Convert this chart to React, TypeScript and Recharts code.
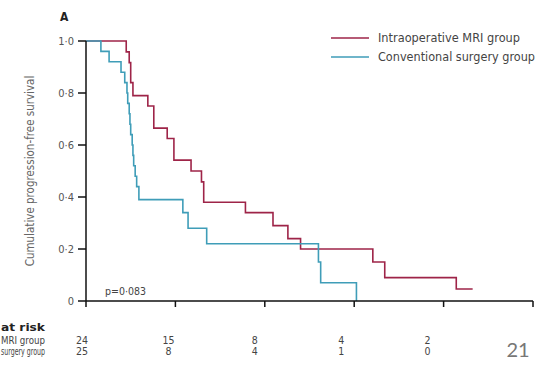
import { LineChart, Line, XAxis, YAxis } from 'recharts';

// Kaplan–Meier steps, time in months
const mriTime = [0, 5.4, 5.8, 6.0, 6.3, 8.3, 9.1, 10.9, 11.8, 14.1, 15.5, 15.8, 21.4, 25.1, 27.1, 28.8, 38.5, 40.1, 49.7, 51.9];
const mriSurv = [1.0, 0.958, 0.917, 0.84, 0.79, 0.75, 0.665, 0.625, 0.542, 0.5, 0.458, 0.38, 0.34, 0.29, 0.24, 0.2, 0.15, 0.09, 0.046, 0.046];

const convTime = [0, 2.0, 3.1, 4.7, 5.2, 5.5, 5.6, 5.8, 5.9, 6.0, 6.2, 6.3, 6.4, 6.6, 6.8, 7.1, 13.0, 13.7, 16.2, 31.2, 31.5, 36.3];
const convSurv = [1.0, 0.96, 0.92, 0.88, 0.84, 0.8, 0.76, 0.72, 0.68, 0.64, 0.6, 0.56, 0.52, 0.48, 0.44, 0.39, 0.34, 0.28, 0.22, 0.15, 0.07, 0];

const xTicks = [0, 12, 24, 36, 48, 60];
const yTicks = [0, 0.2, 0.4, 0.6, 0.8, 1.0];
const mriAtRisk = ['24', '15', '8', '4', '2'];
const convAtRisk = ['25', '8', '4', '1', '0'];
const rowLabels = ['at risk', 'MRI group', 'surgery group'];

const RED = '#9e2448';
const BLUE = '#3f9db8';
const FONT = '"DejaVu Sans Condensed", "DejaVu Sans", sans-serif';

const mriData = mriTime.map((t, i) => ({ t, s: mriSurv[i] }));
const convData = convTime.map((t, i) => ({ t, s: convSurv[i] }));

const fmtY = (v: number) => (v === 0 ? '0' : v.toFixed(1).replace('.', '·'));

function RiskTick(props: any) {
  const { x, index } = props;
  if (index >= mriAtRisk.length) return <g />;
  const dx = -4 - index * 3;
  return (
    <g>
      <text x={x + dx} y={344} textAnchor="middle" fontSize={10.5} fill="#444" fontFamily={FONT}>
        {mriAtRisk[index]}
      </text>
      <text x={x + dx} y={355} textAnchor="middle" fontSize={10.5} fill="#444" fontFamily={FONT}>
        {convAtRisk[index]}
      </text>
    </g>
  );
}

export default function App() {
  return (
    <div style={{ position: 'absolute', left: 0, top: 0, width: 544, height: 372, background: '#fff', fontFamily: FONT }}>
      <LineChart
        width={544}
        height={372}
        margin={{ top: 41, right: 11, bottom: 0, left: 56 }}
      >
        <XAxis
          dataKey="t"
          type="number"
          domain={[0, 60]}
          ticks={xTicks}
          allowDataOverflow
          axisLine={{ stroke: '#111', strokeWidth: 1.5 }}
          tickLine={{ stroke: '#111', strokeWidth: 1.5 }}
          tickSize={6}
          tick={<RiskTick />}
          height={71}
        />
        <YAxis
          type="number"
          domain={[0, 1]}
          ticks={yTicks}
          tickFormatter={fmtY}
          axisLine={{ stroke: '#111', strokeWidth: 1.5 }}
          tickLine={{ stroke: '#111', strokeWidth: 1.5 }}
          tickSize={8}
          tickMargin={4}
          width={30}
          tick={{ fontSize: 11, fill: '#555', fontFamily: FONT }}
          label={{
            value: 'Cumulative progression-free survival',
            angle: -90,
            position: 'insideLeft',
            offset: -26,
            style: { fontSize: 11.5, fill: '#666', fontFamily: FONT, textAnchor: 'middle' },
          }}
        />
        <Line
          data={mriData}
          dataKey="s"
          type="stepAfter"
          stroke={RED}
          strokeWidth={1.6}
          dot={false}
          isAnimationActive={false}
        />
        <Line
          data={convData}
          dataKey="s"
          type="stepAfter"
          stroke={BLUE}
          strokeWidth={1.6}
          dot={false}
          isAnimationActive={false}
        />
        <text x={60} y={21} fontSize={12} fontWeight="bold" fill="#222" fontFamily={FONT}>A</text>
        <text x={105} y={295} fontSize={10.5} fill="#444" fontFamily={FONT}>p=0·083</text>
        <line x1={331} x2={369} y1={38} y2={38} stroke={RED} strokeWidth={1.6} />
        <line x1={331} x2={369} y1={57} y2={57} stroke={BLUE} strokeWidth={1.6} />
        <text x={378} y={42} fontSize={11.5} fill="#444" fontFamily="'DejaVu Sans', sans-serif" textLength={142} lengthAdjust="spacingAndGlyphs">Intraoperative MRI group</text>
        <text x={378} y={61} fontSize={11.5} fill="#444" fontFamily="'DejaVu Sans', sans-serif" textLength={157} lengthAdjust="spacingAndGlyphs">Conventional surgery group</text>
        <text x={1} y={331} fontSize={10.5} fontWeight={600} fill="#222" fontFamily={FONT} textLength={44} lengthAdjust="spacingAndGlyphs">{rowLabels[0]}</text>
        <text x={1} y={344} fontSize={10.5} fill="#444" fontFamily={FONT} textLength={44} lengthAdjust="spacingAndGlyphs">{rowLabels[1]}</text>
        <text x={1} y={355} fontSize={10.5} fill="#444" fontFamily={FONT} textLength={44} lengthAdjust="spacingAndGlyphs">{rowLabels[2]}</text>
        <text x={518} y={357} textAnchor="middle" fontSize={20} fill="#777" fontFamily="Lato, 'Open Sans', sans-serif">21</text>
      </LineChart>
    </div>
  );
}
